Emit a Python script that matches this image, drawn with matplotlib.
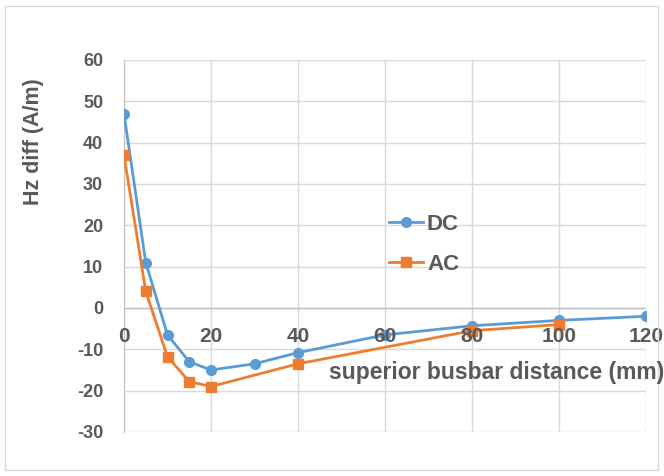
import matplotlib.pyplot as plt
from matplotlib.patches import Rectangle

# data
dc_x = [0, 5, 10, 15, 20, 30, 40, 60, 80, 100, 120]
dc_y = [47, 11, -6.5, -13, -15, -13.5, -10.8, -6.5, -4.3, -3, -2]
ac_x = [0, 5, 10, 15, 20, 40, 80, 100]
ac_y = [37, 4, -11.8, -17.8, -19, -13.5, -5.5, -4]
x_ticks = [0, 20, 40, 60, 80, 100, 120]
y_ticks = [-30, -20, -10, 0, 10, 20, 30, 40, 50, 60]

txt = '#595959'
plt.rcParams['font.family'] = ['Liberation Sans', 'DejaVu Sans']
plt.rcParams['font.weight'] = 'bold'

fig = plt.figure(figsize=(6.64, 4.76), dpi=100)
fig.patches.append(Rectangle((5/664, 6/476), 653/664, 464/476, transform=fig.transFigure,
                             fill=False, edgecolor='#d9d9d9', lw=1))
ax = fig.add_axes([124/664, 1-432/476, 522/664, 372/476])

ax.plot(dc_x, dc_y, color='#5B9BD5', lw=2, marker='o', ms=7, label='DC', zorder=3)
ax.plot(ac_x, ac_y, color='#ED7D31', lw=2, marker='s', ms=6.5, label='AC', zorder=3)

ax.set_xlim(0, 120)
ax.set_ylim(-30, 60)
ax.set_yticks(y_ticks)
ax.set_yticklabels([str(v) for v in y_ticks])
ax.set_xticks(x_ticks)
ax.grid(True, color='#d9d9d9', lw=1)
ax.set_axisbelow(True)
for s in ['top', 'right', 'bottom']:
    ax.spines[s].set_visible(False)
ax.spines['left'].set_color('#bfbfbf')
ax.axhline(0, color='#bfbfbf', lw=1, zorder=1)

ax.tick_params(axis='both', length=0, labelsize=13, labelcolor=txt)
ax.tick_params(axis='y', pad=15)
ax.set_xticklabels([])
for xv in x_ticks:
    ax.text(xv, -7, str(xv), ha='center', va='center', fontsize=15, color=txt,
            fontweight='bold', family=['Liberation Sans Narrow', 'Liberation Sans'],
            zorder=5)

ax.set_ylabel('Hz diff (A/m)', fontsize=15.5, color=txt, fontweight='bold')
ax.yaxis.set_label_coords(-0.153, 0.78)
fig.text(664/664, 1-373/476, 'superior busbar distance (mm)', ha='right', va='center',
         fontsize=16.5, color=txt, fontweight='bold')

leg = ax.legend(loc='center left', bbox_to_anchor=(0.508, 0.505), frameon=False,
                fontsize=16, handlelength=1.5, handletextpad=0.2, labelspacing=0.85,
                borderpad=0, borderaxespad=0)
for t in leg.get_texts():
    t.set_color(txt)

fig.savefig('out.png', dpi=100)
